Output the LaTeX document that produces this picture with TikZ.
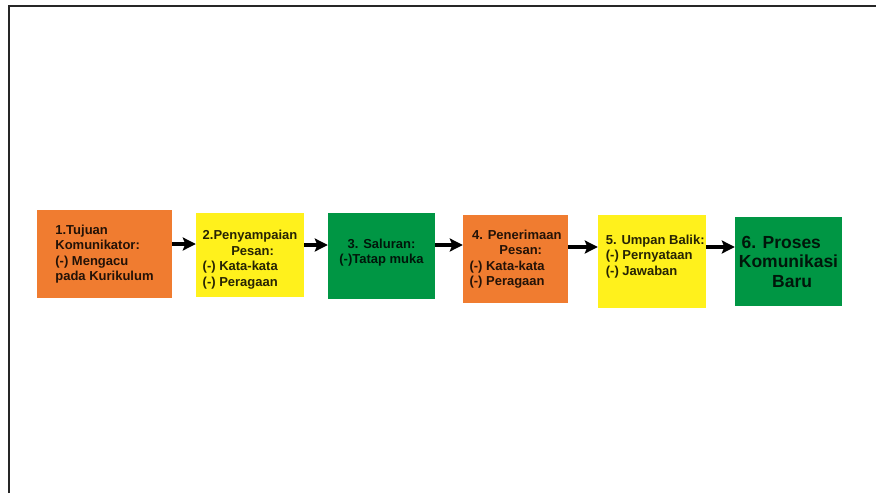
\documentclass[tikz,border=0pt]{standalone}
\usepackage{fontspec}
\setmainfont{Liberation Sans}
\usetikzlibrary{arrows.meta}
\definecolor{boxorange}{RGB}{240,124,48}
\definecolor{boxyellow}{RGB}{255,241,28}
\definecolor{boxgreen}{RGB}{0,150,68}
\tikzset{
  stepbox/.style={inner sep=0pt, text=black, text opacity=0.85,
    font=\bfseries\fontsize{13}{15.5}\selectfont},
  flow/.style={line width=4.5pt, -{Stealth[length=13pt,width=13pt,inset=2.5pt]}}
}
\begin{document}
\begin{tikzpicture}
[x=1pt, y=-1pt]
\useasboundingbox (0,0) rectangle (876,493);
\draw [line width=2.6pt, black!85] (9,493) -- (9,6) -- (876,6);
\node (tujuan) [stepbox, fill=boxorange, minimum width=135pt, minimum height=88pt, align=left] at (104.5,254) {1.Tujuan\\Komunikator:\\(-) Mengacu\\pada Kurikulum};
\node (sampai) [stepbox, fill=boxyellow, minimum width=108pt, minimum height=84pt, align=left] at (250,255) {2.Penyampaian\\\hspace*{2.2em}Pesan:\\(-) Kata-kata\\(-) Peragaan\\[-22pt]};
\node (saluran) [stepbox, fill=boxgreen, minimum width=107pt, minimum height=86pt, align=center] at (381.5,256) {3. Saluran:\\(-)Tatap muka\\[-6.5pt]};
\node (terima) [stepbox, fill=boxorange, minimum width=105pt, minimum height=88pt, align=left] at (515.5,259) {\hspace*{0.2em}4. Penerimaan\\\hspace*{2.3em}Pesan:\\(-) Kata-kata\\(-) Peragaan};
\node (balik) [stepbox, fill=boxyellow, minimum width=108pt, minimum height=93pt, align=left] at (652,261.5) {\hspace*{0.5em}5. Umpan Balik:\\\hspace*{0.5em}(-) Pernyataan\\\hspace*{0.5em}(-) Jawaban\\[-2.5pt]};
\node (baru) [stepbox, fill=boxgreen, minimum width=107pt, minimum height=89pt, align=left, font=\bfseries\fontsize{17.5}{19.5}\selectfont] at (788.5,261.5) {\hspace*{0.15em}6. Proses\\Komunikasi\\\hspace*{1.9em}Baru};
\draw [flow] (tujuan.east |- 0,244) -- (sampai.west |- 0,244);
\draw [flow] (sampai.east |- 0,245) -- (saluran.west |- 0,245);
\draw [flow] (saluran.east |- 0,245) -- (terima.west |- 0,245);
\draw [flow] (terima.east |- 0,247) -- (balik.west |- 0,247);
\draw [flow] (balik.east |- 0,247) -- (baru.west |- 0,247);
\end{tikzpicture}
\end{document}
